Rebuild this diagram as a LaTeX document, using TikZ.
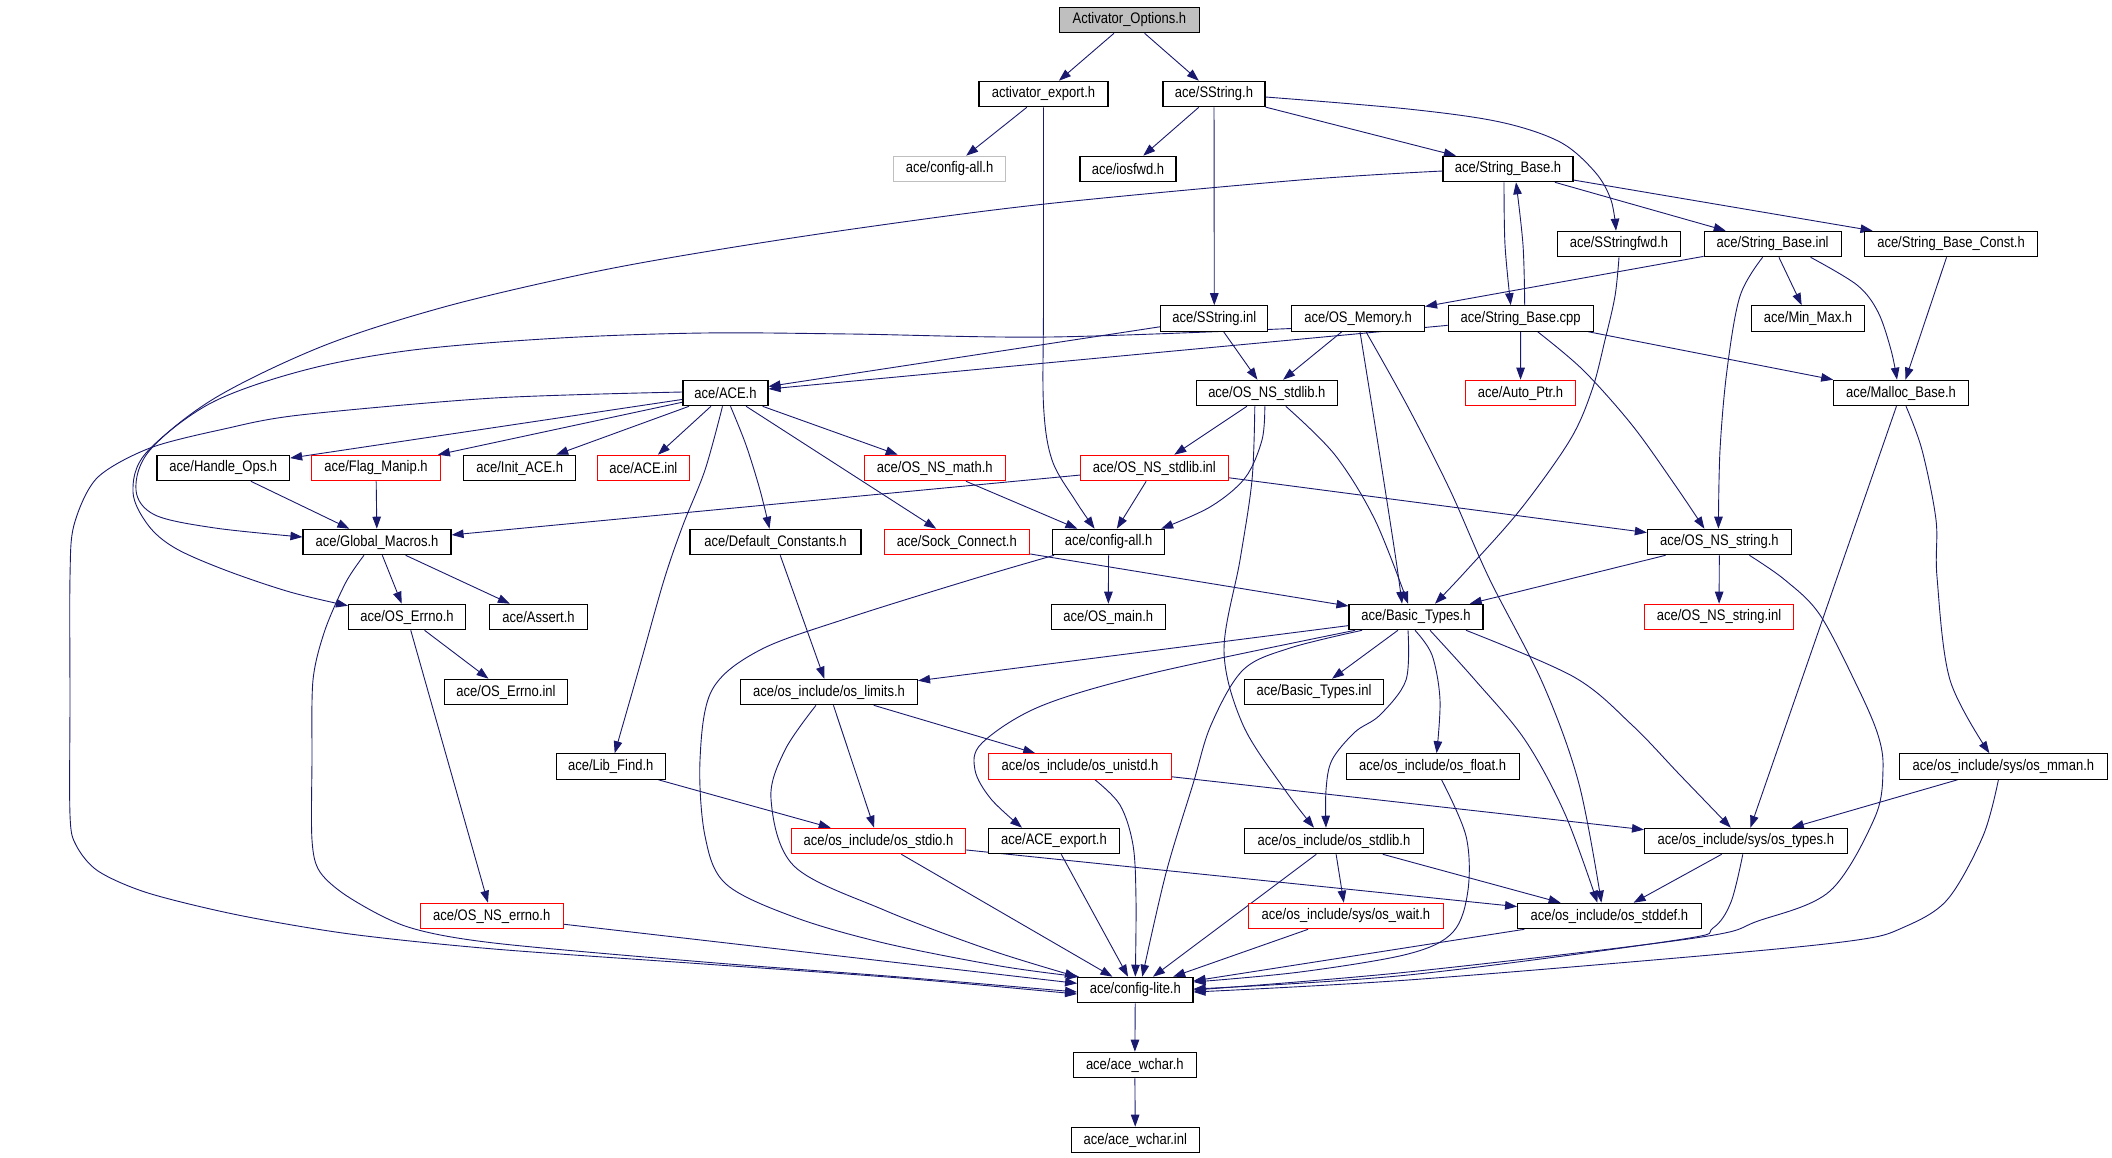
\documentclass[tikz,border=0pt]{standalone}
\usepackage{fontspec}
\setmainfont{Liberation Sans}[FakeStretch=0.85]
\usetikzlibrary{arrows.meta}
\definecolor{edgecol}{HTML}{191970}
\definecolor{rootfill}{HTML}{BFBFBF}
\definecolor{lightframe}{HTML}{BFBFBF}
\pgfdeclarelayer{background}
\pgfsetlayers{background,main}
\newcommand\mynode[6]{\node[#1,minimum width=#5pt] (#2) at (#3,#4) {#6};}
\begin{document}
\begin{tikzpicture}[x=1pt,y=-1pt,
  box/.style={draw=black, fill=white, line width=1.1pt, minimum height=25.5pt, inner sep=0pt, font=\fontsize{15.3}{16}\selectfont},
  redbox/.style={box, draw=red},
  graybox/.style={box, draw=lightframe},
  rootbox/.style={box, fill=rootfill},
  edge/.style={draw=edgecol, line width=0.9pt, -{Triangle[length=12pt,width=8.5pt]}}]
\useasboundingbox (0,0) rectangle (2112,1157);
% row 1
\mynode{rootbox}{root}{1129.4}{20}{140}{Activator\_Options.h}
% row 2
\mynode{box}{ae}{1043.5}{94}{129}{activator\_export.h}
\mynode{box}{ss}{1214}{94}{102}{ace/SString.h}
% row 3
\mynode{graybox}{cag}{949.5}{169}{112}{ace/config-all.h}
\mynode{box}{iof}{1128}{169}{96}{ace/iosfwd.h}
\mynode{box}{sbh}{1508}{169}{130}{ace/String\_Base.h}
% row 4
\mynode{box}{ssf}{1619}{244}{123}{ace/SStringfwd.h}
\mynode{box}{sbi}{1772.6}{244}{137}{ace/String\_Base.inl}
\mynode{box}{sbc}{1951}{244}{173}{ace/String\_Base\_Const.h}
% row 5
\mynode{box}{ssi}{1214.3}{318.5}{107}{ace/SString.inl}
\mynode{box}{osm}{1358}{318.5}{133}{ace/OS\_Memory.h}
\mynode{box}{sbp}{1520.7}{318.5}{145}{ace/String\_Base.cpp}
\mynode{box}{mm}{1808}{318.5}{113}{ace/Min\_Max.h}
% row 6
\mynode{box}{ace}{725.5}{393}{85}{ace/ACE.h}
\mynode{box}{nsl}{1266.8}{393}{140.5}{ace/OS\_NS\_stdlib.h}
\mynode{redbox}{ap}{1520.5}{393}{110}{ace/Auto\_Ptr.h}
\mynode{box}{mb}{1901}{393}{135}{ace/Malloc\_Base.h}
% row 7
\mynode{box}{ho}{223.3}{468}{132.6}{ace/Handle\_Ops.h}
\mynode{redbox}{fm}{376}{468}{128.5}{ace/Flag\_Manip.h}
\mynode{box}{ia}{519.7}{468}{112}{ace/Init\_ACE.h}
\mynode{redbox}{ainl}{643.4}{468}{92.5}{ace/ACE.inl}
\mynode{redbox}{nsm}{934.8}{468}{141}{ace/OS\_NS\_math.h}
\mynode{redbox}{nsli}{1154.4}{468}{148}{ace/OS\_NS\_stdlib.inl}
% row 8
\mynode{box}{gm}{377}{542}{148}{ace/Global\_Macros.h}
\mynode{box}{dc}{775.5}{542}{171}{ace/Default\_Constants.h}
\mynode{redbox}{sc}{956.8}{542}{145.5}{ace/Sock\_Connect.h}
\mynode{box}{ca}{1108.6}{542}{112}{ace/config-all.h}
\mynode{box}{nss}{1719.4}{542}{144}{ace/OS\_NS\_string.h}
% row 9
\mynode{box}{oe}{407}{617}{117}{ace/OS\_Errno.h}
\mynode{box}{as}{538.5}{617}{98}{ace/Assert.h}
\mynode{box}{om}{1108.3}{617}{113.6}{ace/OS\_main.h}
\mynode{box}{bt}{1416}{617}{134}{ace/Basic\_Types.h}
\mynode{redbox}{nssi}{1719}{617}{148.6}{ace/OS\_NS\_string.inl}
% row 10
\mynode{box}{oei}{506}{692}{123.5}{ace/OS\_Errno.inl}
\mynode{box}{lim}{829}{692}{177}{ace/os\_include/os\_limits.h}
\mynode{box}{bti}{1314}{692}{139}{ace/Basic\_Types.inl}
% row 11
\mynode{box}{lf}{610.7}{766.5}{108.7}{ace/Lib\_Find.h}
\mynode{redbox}{uni}{1080}{766.5}{182.3}{ace/os\_include/os\_unistd.h}
\mynode{box}{flt}{1432.6}{766.5}{173}{ace/os\_include/os\_float.h}
\mynode{box}{mman}{2003.4}{766.5}{207.5}{ace/os\_include/sys/os\_mman.h}
% row 12
\mynode{redbox}{stdio}{878.5}{841}{174}{ace/os\_include/os\_stdio.h}
\mynode{box}{aex}{1054}{841}{130.7}{ace/ACE\_export.h}
\mynode{box}{stdl}{1334}{841}{178.7}{ace/os\_include/os\_stdlib.h}
\mynode{box}{types}{1745.8}{841}{202.5}{ace/os\_include/sys/os\_types.h}
% row 13
\mynode{redbox}{nse}{491.7}{916}{142.8}{ace/OS\_NS\_errno.h}
\mynode{redbox}{wait}{1345.9}{916}{194.3}{ace/os\_include/sys/os\_wait.h}
\mynode{box}{stddef}{1609.4}{916}{183.6}{ace/os\_include/os\_stddef.h}
% rows 14-16
\mynode{box}{cl}{1135.3}{990}{115.4}{ace/config-lite.h}
\mynode{box}{wc}{1134.8}{1065}{122.6}{ace/ace\_wchar.h}
\mynode{box}{wci}{1135.3}{1140}{128}{ace/ace\_wchar.inl}

\begin{pgfonlayer}{background}
\fill[white] (0,0) rectangle (2112,1157);
% straight edges
\draw[edge] (root) -- (ae);
\draw[edge] (root) -- (ss);
\draw[edge] (ae) -- (cag);
\draw[edge] (ss) -- (iof);
\draw[edge] (ss) -- (ssi);
\draw[edge] (ss) -- (sbh);
\draw[edge] (sbh) -- (sbi);
\draw[edge] (sbh) -- (sbc);
\draw[edge] (sbi) -- (osm);
\draw[edge] (sbi) -- (mm);
\draw[edge] (sbc) -- (mb);
\draw[edge] (sbp) -- (ace);
\draw[edge] (sbp) -- (ap);
\draw[edge] (sbp) -- (mb);
\draw[edge] (ssi) -- (ace);
\draw[edge] (ssi) -- (nsl);
\draw[edge] (osm) -- (nsl);
\draw[edge] (nsl) -- (nsli);
\draw[edge] (nsli) -- (gm);
\draw[edge] (nsli) -- (ca);
\draw[edge] (nsli) -- (nss);
\draw[edge] (nsm) -- (ca);
\draw[edge] (ace) -- (ho);
\draw[edge] (ace) -- (fm);
\draw[edge] (ace) -- (ia);
\draw[edge] (ace) -- (ainl);
\draw[edge] (ace) -- (sc);
\draw[edge] (ace) -- (nsm);
\draw[edge] (ho) -- (gm);
\draw[edge] (fm) -- (gm);
\draw[edge] (gm) -- (oe);
\draw[edge] (gm) -- (as);
\draw[edge] (oe) -- (oei);
\draw[edge] (oe) -- (nse);
\draw[edge] (nse) -- (cl);
\draw[edge] (ca) -- (om);
\draw[edge] (sc) -- (bt);
\draw[edge] (dc) -- (lim);
\draw[edge] (nss) -- (bt);
\draw[edge] (nss) -- (nssi);
\draw[edge] (bt) -- (lim);
\draw[edge] (bt) -- (bti);
\draw[edge] (lim) -- (uni);
\draw[edge] (lim) -- (stdio);
\draw[edge] (uni) -- (types);
\draw[edge] (lf) -- (stdio);
\draw[edge] (stdio) -- (cl);
\draw[edge] (stdio) -- (stddef);
\draw[edge] (aex) -- (cl);
\draw[edge] (stdl) -- (cl);
\draw[edge] (stdl) -- (wait);
\draw[edge] (stdl) -- (stddef);
\draw[edge] (wait) -- (cl);
\draw[edge] (stddef) -- (cl);
\draw[edge] (types) -- (stddef);
\draw[edge] (mman) -- (types);
\draw[edge] (mb) -- (types);
\draw[edge] (cl) -- (wc);
\draw[edge] (wc) -- (wci);
% curved edges
\draw[edge] plot[smooth,tension=0.55] coordinates {(ae.south) (1043.5,300) (1043.5,405) (1052,460) (1075,500) ([xshift=-14pt]ca.north)};
\draw[edge] plot[smooth,tension=0.55] coordinates {([yshift=-3pt]ss.east) (1408,109) (1500,122) (1560,142) (1595,172) (1611,200) ([xshift=-3pt]ssf.north)};
\draw[edge] plot[smooth,tension=0.55] coordinates {([xshift=-4pt]sbh.south) (1505,245) ([xshift=-10pt]sbp.north)};
\draw[edge] plot[smooth,tension=0.55] coordinates {([xshift=4pt]sbp.north) (1523,245) ([xshift=8pt]sbh.south)};
\draw[edge] plot[smooth,tension=0.55] coordinates {([yshift=-2pt]sbh.west) (1300,180) (1045,204) (860,228) (704,252) (584,274) (444,307) (323,346) (215,398) (150,450) (136,490) (155,515) (215,528) ([yshift=5pt]gm.west)};
\draw[edge] plot[smooth,tension=0.55] coordinates {([yshift=-10pt]osm.west) (1050,337) (850,334) (704,333) (560,338) (413,350) (305,370) (211,403) (146,453) (133,492) (148,525) (175,548) (225,570) (290,592) ([yshift=-2pt]oe.north west)};
\draw[edge] plot[smooth,tension=0.55] coordinates {([xshift=38pt]sbi.south) (1857,285) (1878,312) (1891,350) ([xshift=-4pt]mb.north)};
\draw[edge] plot[smooth,tension=0.55] coordinates {([xshift=-10pt]sbi.south) (1740,296) (1727,370) (1720,450) ([xshift=-1pt]nss.north)};
\draw[edge] plot[smooth,tension=0.55] coordinates {(ssf.south) (1615,296) (1605,340) (1592,390) (1570,440) (1520,510) (1465,572) ([xshift=19pt]bt.north)};
\draw[edge] plot[smooth,tension=0.55] coordinates {([xshift=17pt]sbp.south) (1583,370) (1632,425) (1675,485) ([xshift=-15pt]nss.north)};
\draw[edge] plot[smooth,tension=0.55] coordinates {([xshift=2pt]osm.south) (1378,444) (1396,560) ([xshift=-14pt]bt.north)};
\draw[edge] plot[smooth,tension=0.55] coordinates {([xshift=8pt]osm.south) (1408,407) (1450,490) (1489,578) (1543,684) (1579,784) ([xshift=-8pt]stddef.north)};
\draw[edge] plot[smooth,tension=0.55] coordinates {([xshift=-2pt]nsl.south) (1262,440) (1245,478) (1210,507) ([xshift=-4pt]ca.north east)};
\draw[edge] plot[smooth,tension=0.55] coordinates {([xshift=19pt]nsl.south) (1335,455) (1375,520) ([xshift=-8pt]bt.north)};
\draw[edge] plot[smooth,tension=0.55] coordinates {([xshift=-12pt]nsl.south) (1252,480) (1240,560) (1224,651) (1243,725) (1285,790) ([xshift=-20pt]stdl.north)};
\draw[edge] plot[smooth,tension=0.55] coordinates {([xshift=-3pt]ace.south) (705,470) (683,525) (664,580) (640,665) ([xshift=4pt]lf.north)};
\draw[edge] plot[smooth,tension=0.55] coordinates {([xshift=5pt]ace.south) (746,445) (760,490) ([xshift=-6pt]dc.north)};
\draw[edge] plot[smooth,tension=0.5] coordinates {([yshift=1pt]ace.west) (494,398) (300,415) (224,429) (150,448) (97,478) (74,525) (70,577) (70,700) (70,815) (76,845) (98,871) (148,893) (238,915) (350,934) (494,949) (704,964) (900,978) ([yshift=-4pt]cl.west)};
\draw[edge] plot[smooth,tension=0.5] coordinates {([xshift=-13pt]gm.south) (346,582) (325,630) (313,680) (312,760) (312,840) (320,872) (350,898) (408,927) (494,943) (704,962) (900,977) ([yshift=-2pt]cl.west)};
\draw[edge] plot[smooth,tension=0.55] coordinates {([xshift=2pt]ca.south west) (973,579) (848,618) (760,650) (712,690) (700,760) (705,836) (726,884) (794,917) (884,943) (1000,966) ([xshift=2pt]cl.north west)};
\draw[edge] plot[smooth,tension=0.55] coordinates {([xshift=30pt]nss.south) (1785,580) (1820,615) (1858,688) (1878,735) (1883,769) (1875,817) (1830,891) (1758,921) (1695,938) (1408,972) (cl.east)};
\draw[edge] plot[smooth,tension=0.55] coordinates {([xshift=-61pt]bt.south) (1153,673) (1041,706) (982,743) (975,770) (991,799) ([xshift=-32pt]aex.north)};
\draw[edge] plot[smooth,tension=0.55] coordinates {([xshift=-54pt]bt.south) (1290,648) (1243,670) (1211,725) (1193,784) (1166,873) ([xshift=7pt]cl.north)};
\draw[edge] plot[smooth,tension=0.55] coordinates {([xshift=-1pt]bt.south) (1432,655) (1440,700) ([xshift=4pt]flt.north)};
\draw[edge] plot[smooth,tension=0.55] coordinates {([xshift=-8pt]bt.south) (1406,680) (1380,715) (1355,732) (1332,760) (1326,790) ([xshift=-8pt]stdl.north)};
\draw[edge] plot[smooth,tension=0.55] coordinates {([xshift=14pt]bt.south) (1475,680) (1525,740) (1565,814) ([xshift=-12pt]stddef.north)};
\draw[edge] plot[smooth,tension=0.55] coordinates {([xshift=50pt]bt.south) (1574,677) (1632,725) (1680,775) ([xshift=-15pt]types.north)};
\draw[edge] plot[smooth,tension=0.55] coordinates {([xshift=-13pt]lim.south) (785,750) (771,799) (794,866) (884,910) (990,950) (cl.north west)};
\draw[edge] plot[smooth,tension=0.55] coordinates {([xshift=15pt]uni.south) (1120,805) (1133,845) (1136,900) (cl.north)};
\draw[edge] plot[smooth,tension=0.55] coordinates {([xshift=9pt]flt.south) (1466,836) (1468,890) (1453,932) (1408,954) (1300,972) ([yshift=8pt]cl.east)};
\draw[edge] plot[smooth,tension=0.55] coordinates {([xshift=-3pt]types.south) (1731,902) (1713,928) (1677,940) (1408,975) ([yshift=1pt]cl.east)};
\draw[edge] plot[smooth,tension=0.55] coordinates {([xshift=-5pt]mman.south) (1983,836) (1947,900) (1902,928) (1857,940) (1722,954) (1408,980) ([yshift=-2pt]cl.east)};
\draw[edge] plot[smooth,tension=0.55] coordinates {([xshift=5pt]mb.south) (1922,450) (1936,520) (1937,577) (1950,680) ([xshift=-14pt]mman.north)};
\end{pgfonlayer}
\end{tikzpicture}
\end{document}
